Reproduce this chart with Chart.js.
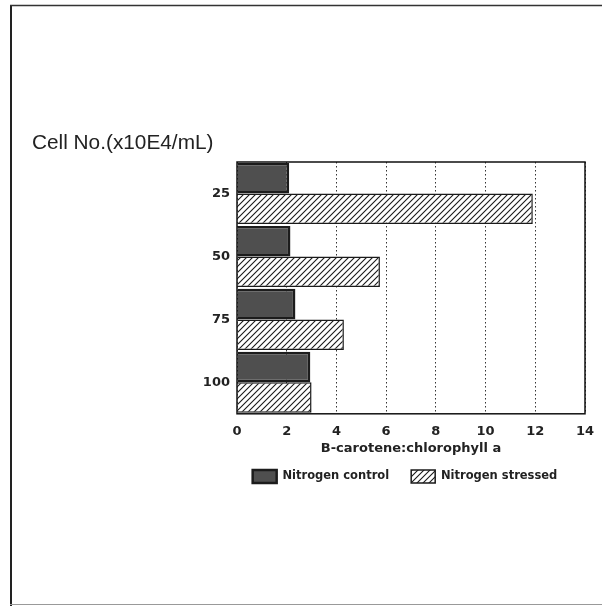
<!DOCTYPE html>
<html>
<head>
<meta charset="utf-8">
<script src="https://cdn.jsdelivr.net/npm/chart.js@4"></script>
<style>
  html, body { margin: 0; padding: 0; background: #fff; overflow: hidden; }
  #wrap { position: relative; width: 602px; height: 607px; }
</style>
</head>
<body>
<div id="wrap"><canvas id="c" width="602" height="607"></canvas></div>
<script>
// Cell density groups (x10E4 cells per mL)
const cellCounts = ['25', '50', '75', '100'];
// B-carotene : chlorophyll a ratio
const controlRatio = [2.1, 2.15, 2.35, 2.95];
const stressedRatio = [11.9, 5.75, 4.3, 3.0];
const xTicks = [0, 2, 4, 6, 8, 10, 12, 14];
const seriesNames = ['Nitrogen control', 'Nitrogen stressed'];
const yTitle = 'Cell No.(x10E4/mL)';
const xTitle = 'B-carotene:chlorophyll a';

const tickFont = { family: 'DejaVu Sans', size: 13, weight: 'bold' };

// diagonal hatch fill for the stressed series
function makeHatch() {
  const s = 6;
  const p = document.createElement('canvas');
  p.width = s; p.height = s;
  const g = p.getContext('2d');
  g.fillStyle = '#ffffff';
  g.fillRect(0, 0, s, s);
  g.strokeStyle = '#1a1a1a';
  g.lineWidth = 1.1;
  g.beginPath();
  g.moveTo(0, s); g.lineTo(s, 0);
  g.moveTo(-1, 1); g.lineTo(1, -1);
  g.moveTo(s - 1, s + 1); g.lineTo(s + 1, s - 1);
  g.stroke();
  return g.createPattern(p, 'repeat');
}

const ctx = document.getElementById('c').getContext('2d');
const hatch = makeHatch();

// page frame, plot box and the horizontal y title
const decor = {
  id: 'decor',
  afterLayout(chart) {
    // centre the legend row under the plot rather than the page
    const l = chart.legend;
    if (l) {
      const dx = 405 - (l.left + l.right) / 2;
      l.left += dx; l.right += dx;
      l.top -= 8; l.bottom -= 8;
    }
  },
  beforeDraw(chart) {
    const c = chart.ctx;
    c.save();
    c.fillStyle = '#fff';
    c.fillRect(0, 0, chart.width, chart.height);
    c.strokeStyle = '#222';
    c.lineWidth = 2;
    c.beginPath(); c.moveTo(11, 5); c.lineTo(11, 606); c.stroke();
    c.strokeStyle = '#333';
    c.lineWidth = 1.5;
    c.beginPath(); c.moveTo(10, 5.5); c.lineTo(602, 5.5); c.stroke();
    c.strokeStyle = '#999';
    c.lineWidth = 1;
    c.beginPath(); c.moveTo(10, 604.5); c.lineTo(602, 604.5); c.stroke();
    c.fillStyle = '#222';
    c.font = '20.8px "Liberation Sans"';
    c.textAlign = 'left';
    c.textBaseline = 'middle';
    c.fillText(yTitle, 32, 143);
    c.restore();
  },
  afterDatasetsDraw(chart) {
    const a = chart.chartArea;
    const c = chart.ctx;
    c.save();
    c.strokeStyle = '#111';
    c.lineWidth = 1.5;
    c.strokeRect(a.left, a.top, a.right - a.left, a.bottom - a.top);
    c.restore();
  }
};

new Chart(ctx, {
  type: 'bar',
  data: {
    labels: cellCounts,
    datasets: [
      {
        label: seriesNames[0],
        data: controlRatio,
        backgroundColor: '#4f4f4f',
        borderColor: '#1c1c1c',
        borderWidth: 2.5,
        categoryPercentage: 0.97,
        barPercentage: 1.0
      },
      {
        label: seriesNames[1],
        data: stressedRatio,
        backgroundColor: hatch,
        borderColor: '#1a1a1a',
        borderWidth: 1.5,
        categoryPercentage: 0.97,
        barPercentage: 1.0
      }
    ]
  },
  options: {
    indexAxis: 'y',
    responsive: false,
    animation: false,
    layout: { padding: { top: 162, right: 17, left: 0, bottom: 106 } },
    scales: {
      x: {
        min: xTicks[0],
        max: xTicks[xTicks.length - 1],
        afterBuildTicks(scale) { scale.ticks = xTicks.map(v => ({ value: v })); },
        afterFit(scale) { scale.paddingLeft = 0; scale.paddingRight = 0; },
        grid: { color: '#333', lineWidth: 1, drawTicks: false },
        border: { display: false, dash: [1.5, 2.5] },
        ticks: { color: '#222', font: tickFont, padding: 10 },
        title: {
          display: true,
          text: xTitle,
          color: '#222',
          font: tickFont,
          padding: { top: -9, bottom: 0 }
        }
      },
      y: {
        afterFit(scale) { scale.width = 237; },
        grid: { display: false, drawTicks: false },
        border: { display: false },
        ticks: { color: '#222', font: tickFont, padding: 7 }
      }
    },
    plugins: {
      legend: {
        position: 'bottom',
        fullSize: true,
        labels: {
          boxWidth: 24,
          boxHeight: 13,
          padding: 22,
          color: '#222',
          font: { family: 'DejaVu Sans', size: 11.5, weight: 'bold' }
        }
      },
      tooltip: { enabled: false }
    }
  },
  plugins: [decor]
});
</script>
</body>
</html>
